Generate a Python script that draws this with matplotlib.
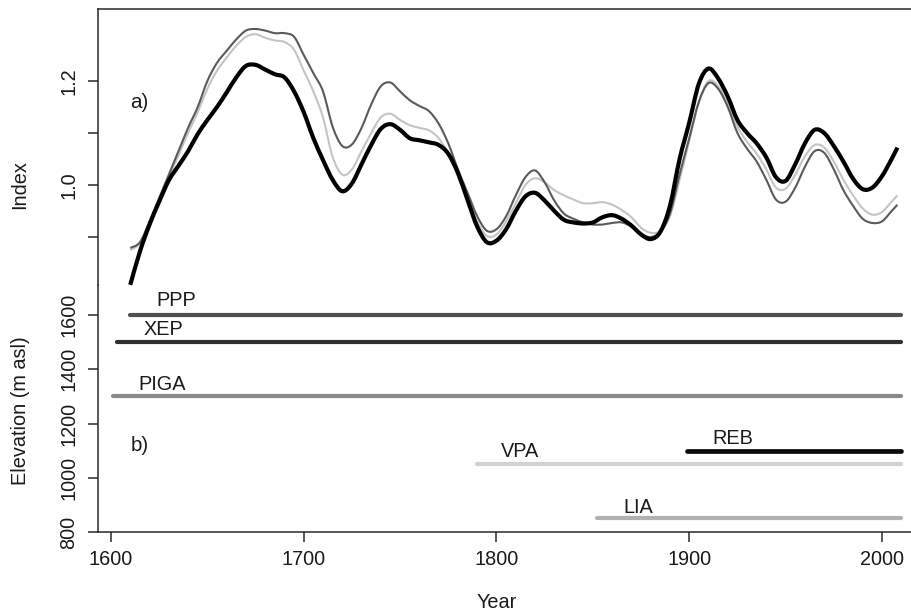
import matplotlib
matplotlib.use("Agg")
import matplotlib.pyplot as plt
from matplotlib.path import Path
from matplotlib.patches import PathPatch

plt.rcParams['font.family'] = ['Liberation Sans', 'DejaVu Sans']

# ---- panel a: smoothed index chronologies ----
years = [1610, 1615, 1620, 1625, 1630, 1635, 1640, 1645, 1650, 1655,
         1660, 1665, 1670, 1675, 1680, 1685, 1690, 1695, 1700, 1705,
         1710, 1715, 1720, 1725, 1730, 1735, 1740, 1745, 1750, 1755,
         1760, 1765, 1770, 1775, 1780, 1785, 1790, 1795, 1800, 1805,
         1810, 1815, 1820, 1825, 1830, 1835, 1840, 1845, 1850, 1855,
         1860, 1865, 1870, 1875, 1880, 1885, 1890, 1895, 1900, 1905,
         1910, 1915, 1920, 1925, 1930, 1935, 1940, 1945, 1950, 1955,
         1960, 1965, 1970, 1975, 1980, 1985, 1990, 1995, 2000, 2005, 2008]

index_black = [0.808, 0.872, 0.924, 0.968, 1.009, 1.037, 1.065, 1.098, 1.125, 1.150,
               1.178, 1.207, 1.229, 1.231, 1.222, 1.213, 1.207, 1.180, 1.140, 1.090,
               1.048, 1.010, 0.988, 1.003, 1.040, 1.077, 1.108, 1.117, 1.106, 1.090,
               1.086, 1.082, 1.077, 1.060, 1.023, 0.971, 0.920, 0.890, 0.893, 0.915,
               0.950, 0.978, 0.985, 0.970, 0.950, 0.933, 0.928, 0.926, 0.928, 0.938,
               0.942, 0.935, 0.922, 0.905, 0.896, 0.910, 0.960, 1.050, 1.120, 1.195,
               1.224, 1.205, 1.170, 1.125, 1.100, 1.080, 1.053, 1.015, 1.008, 1.040,
               1.080, 1.106, 1.100, 1.075, 1.045, 1.012, 0.992, 0.995, 1.017, 1.050, 1.072]

index_dark = [0.879, 0.890, 0.930, 0.975, 1.020, 1.065, 1.110, 1.150, 1.200, 1.235,
              1.258, 1.280, 1.297, 1.300, 1.297, 1.292, 1.292, 1.285, 1.250, 1.215,
              1.180, 1.112, 1.075, 1.078, 1.110, 1.155, 1.190, 1.197, 1.180, 1.163,
              1.152, 1.142, 1.118, 1.080, 1.030, 0.985, 0.940, 0.912, 0.915, 0.940,
              0.980, 1.015, 1.028, 1.005, 0.970, 0.945, 0.935, 0.928, 0.924, 0.924,
              0.927, 0.928, 0.920, 0.906, 0.900, 0.910, 0.945, 1.020, 1.090, 1.160,
              1.196, 1.185, 1.150, 1.100, 1.070, 1.045, 1.010, 0.972, 0.968, 0.995,
              1.035, 1.065, 1.062, 1.030, 0.990, 0.960, 0.935, 0.927, 0.930, 0.950, 0.962]

index_light = [0.875, 0.888, 0.928, 0.972, 1.015, 1.057, 1.100, 1.140, 1.185, 1.220,
               1.245, 1.268, 1.285, 1.290, 1.283, 1.278, 1.275, 1.260, 1.220, 1.180,
               1.130, 1.054, 1.020, 1.030, 1.065, 1.100, 1.130, 1.137, 1.125, 1.115,
               1.110, 1.105, 1.090, 1.060, 1.020, 0.975, 0.930, 0.902, 0.905, 0.930,
               0.965, 1.000, 1.013, 1.005, 0.990, 0.980, 0.972, 0.965, 0.965, 0.967,
               0.962, 0.952, 0.938, 0.918, 0.908, 0.912, 0.940, 1.010, 1.085, 1.160,
               1.200, 1.190, 1.155, 1.112, 1.083, 1.060, 1.030, 0.995, 0.993, 1.020,
               1.055, 1.077, 1.072, 1.045, 1.010, 0.980, 0.955, 0.943, 0.948, 0.968, 0.980]

# ---- panel b: site elevations and record spans ----
sites = ['PPP', 'XEP', 'PIGA', 'REB', 'VPA', 'LIA']
elevations = [1600, 1500, 1300, 1100, 1050, 850]
span_start = [1610, 1603, 1601, 1899, 1790, 1852]
span_end = [2010, 2010, 2010, 2010, 2010, 2010]
label_year = [1634, 1627, 1626.5, 1922.7, 1812, 1873.4]
label_elev = [1655, 1548, 1342, 1146, 1098, 892]
site_colors = ['#4f4f4f', '#303030', '#8a8a8a', '#0a0a0a', '#d2d2d2', '#b0b0b0']
site_widths = [3.0, 3.0, 3.0, 3.4, 3.0, 3.0]

x_ticks = [1600, 1700, 1800, 1900, 2000]
top_ticks = [0.9, 1.0, 1.1, 1.2]
top_tick_labels = ['', '1.0', '', '1.2']
elev_ticks = [800, 1000, 1200, 1400, 1600]


def smooth_path(xs, ys):
    """Cubic Bezier path passing through every (x, y) pair (Catmull-Rom tangents)."""
    n = len(xs)
    verts = [(xs[0], ys[0])]
    codes = [Path.MOVETO]
    for i in range(n - 1):
        i0 = max(i - 1, 0)
        i3 = min(i + 2, n - 1)
        c1 = (xs[i] + (xs[i + 1] - xs[i0]) / 6.0, ys[i] + (ys[i + 1] - ys[i0]) / 6.0)
        c2 = (xs[i + 1] - (xs[i3] - xs[i]) / 6.0, ys[i + 1] - (ys[i3] - ys[i]) / 6.0)
        verts += [c1, c2, (xs[i + 1], ys[i + 1])]
        codes += [Path.CURVE4] * 3
    return Path(verts, codes)


W, H = 911, 614
fig = plt.figure(figsize=(W / 100, H / 100), dpi=100)

left = 98 / W
width = 1 - left
y_split = 1 - 285 / H
ax_a = fig.add_axes([left, y_split, width, (1 - 9 / H) - y_split])
ax_b = fig.add_axes([left, 1 - 532 / H, width, y_split - (1 - 532 / H)])

xlim = (1593.26, 2015.05)
spine_col = '#2a2a2a'
fs = 14.3

for ax in (ax_a, ax_b):
    ax.set_xlim(*xlim)
    ax.set_facecolor('none')
    for s in ax.spines.values():
        s.set_color(spine_col)
        s.set_linewidth(1.1)
    ax.tick_params(axis='both', direction='out', length=7, width=1.1,
                   color=spine_col, labelsize=fs, labelcolor='#1a1a1a')

# panel a
ax_a.set_ylim(0.8077, 1.3385)
for series, col, lw, z in [(index_light, '#c4c4c4', 1.5, 2),
                           (index_dark, '#5a5a5a', 1.5, 3),
                           (index_black, 'black', 3.0, 4)]:
    patch = PathPatch(smooth_path(years, series), fill=False, edgecolor=col,
                      lw=lw, zorder=z, clip_on=False, capstyle='butt', joinstyle='round')
    ax_a.add_patch(patch)
ax_a.spines['bottom'].set_visible(False)
ax_a.spines['right'].set_visible(False)
ax_a.set_xticks([])
ax_a.set_yticks(top_ticks)
ax_a.set_yticklabels(top_tick_labels, rotation=90, va='center')
ax_a.tick_params(axis='y', pad=7)
ax_a.text(1610, 1.158, 'a)', fontsize=fs + 0.5, ha='left', va='center', color='#1a1a1a')

# panel b
ax_b.set_ylim(800, 1710.6)
for name, elev, x0, x1, lx, ly, c, w in zip(sites, elevations, span_start, span_end,
                                            label_year, label_elev, site_colors, site_widths):
    ax_b.plot([x0, x1], [elev, elev], color=c, lw=w, solid_capstyle='round')
    ax_b.text(lx, ly, name, fontsize=fs, ha='center', va='center', color='#1a1a1a')
ax_b.spines['top'].set_visible(False)
ax_b.spines['right'].set_visible(False)
ax_b.set_xticks(x_ticks)
ax_b.set_yticks(elev_ticks)
ax_b.set_yticklabels([str(v) for v in elev_ticks], rotation=90, va='center')
ax_b.tick_params(axis='y', pad=7)
ax_b.tick_params(axis='x', pad=6)
ax_b.text(1610, 1120, 'b)', fontsize=fs + 0.5, ha='left', va='center', color='#1a1a1a')

fig.text(20 / W, 1 - 185 / H, 'Index', rotation=90, ha='center', va='center',
         fontsize=fs, color='#1a1a1a')
fig.text(21 / W, 1 - 411 / H, 'Elevation (m asl)', rotation=90, ha='center', va='center',
         fontsize=fs, color='#1a1a1a')
fig.text(497 / W, 1 - 602 / H, 'Year', ha='center', va='center', fontsize=fs,
         color='#1a1a1a')

fig.savefig('out.png', dpi=100)
